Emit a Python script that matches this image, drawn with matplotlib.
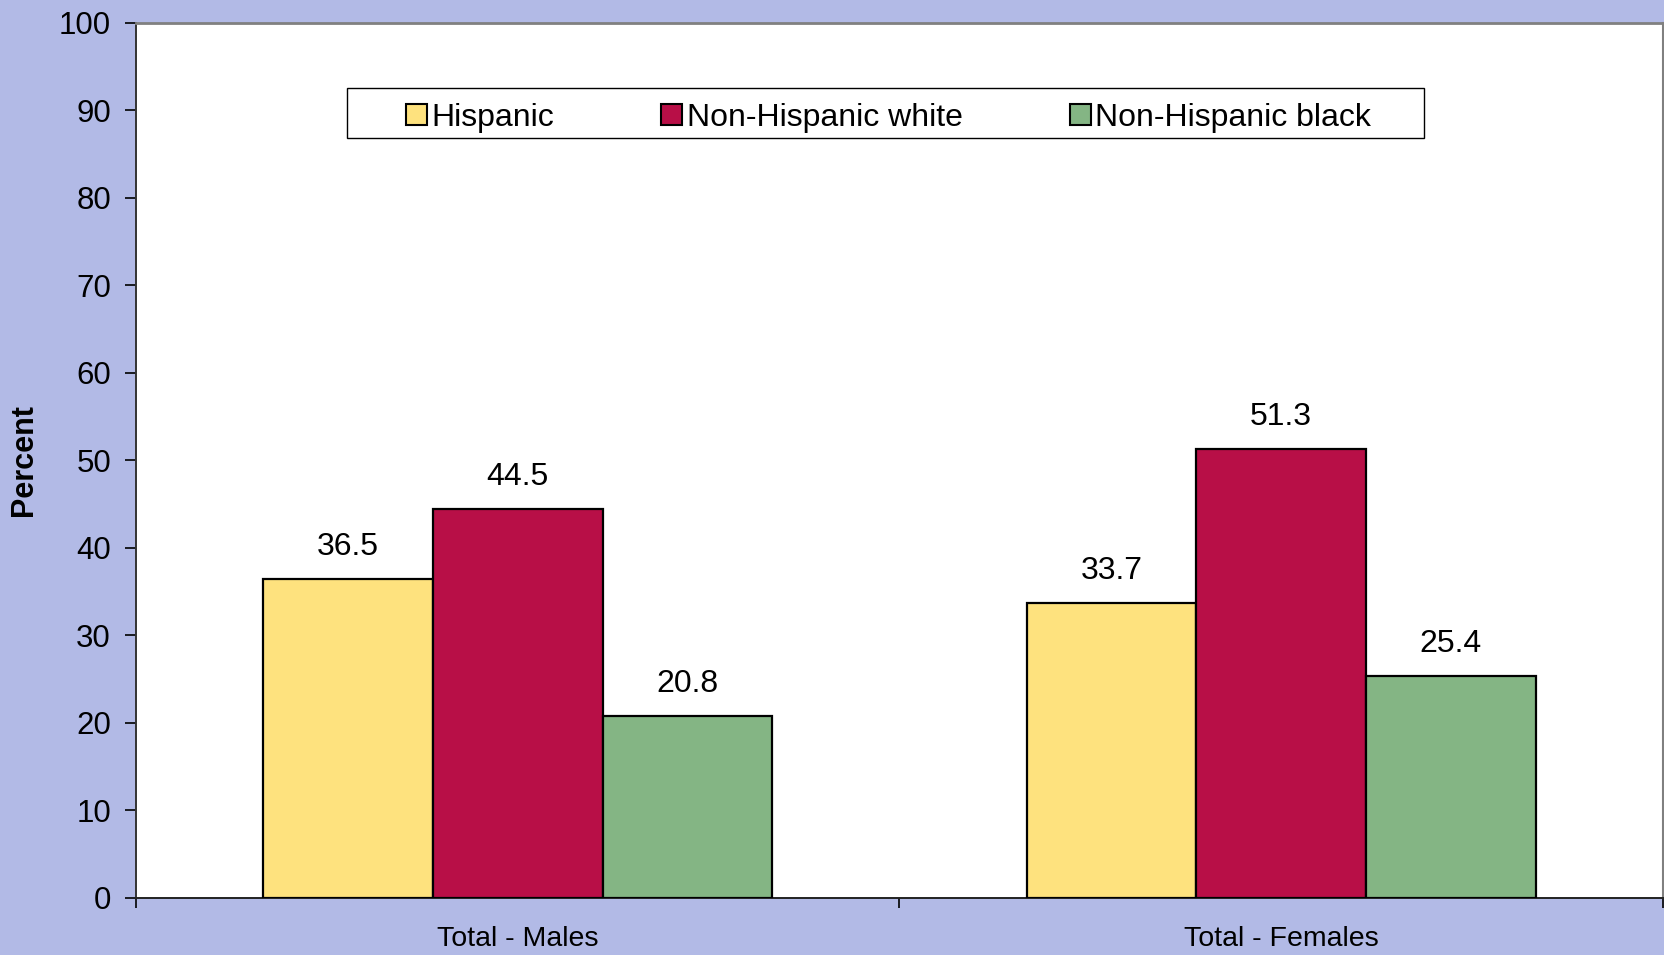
import matplotlib.pyplot as plt
from matplotlib.patches import Rectangle
import numpy as np

plt.rcParams['font.family'] = ['Liberation Sans', 'DejaVu Sans']

categorias = ["Total - Males", "Total - Females"]
series = ["Hispanic", "Non-Hispanic white", "Non-Hispanic black"]
hispanic = [36.5, 33.7]
nh_white = [44.5, 51.3]
nh_black = [20.8, 25.4]

colores = ["#FEE27E", "#B80F47", "#84B584"]
fondo = "#B2BAE6"

fig = plt.figure(figsize=(16.65, 9.55), dpi=100, facecolor=fondo)
ax = fig.add_axes([0.0817, 0.0597, 0.917, 0.9163])
ax.set_facecolor("white")

x = np.arange(len(categorias))
ancho = 0.2222
valores = [hispanic, nh_white, nh_black]

for i, (nombre, vals) in enumerate(zip(series, valores)):
    barras = ax.bar(x + (i - 1) * ancho, vals, ancho, color=colores[i],
                    edgecolor="black", linewidth=1.6, label=nombre, zorder=3)
    for b in barras:
        ax.annotate(f"{b.get_height():.1f}",
                    (b.get_x() + b.get_width() / 2, b.get_height()),
                    xytext=(0, 12), textcoords="offset points",
                    ha="center", va="bottom", fontsize=23)

ax.set_xlim(-0.5, 1.5)
ax.set_ylim(0, 100)
ax.set_yticks(range(0, 101, 10))
ax.tick_params(axis="y", labelsize=22.5, length=8, width=1.2, direction="out", pad=10)

# ticks en los limites de categoria, etiquetas centradas
ax.set_xticks([-0.5, 0.5, 1.5])
ax.set_xticklabels([])
ax.tick_params(axis="x", which="major", length=7, width=1.2, direction="out")
ax.set_xticks(x, minor=True)
ax.set_xticklabels(categorias, minor=True)
ax.tick_params(axis="x", which="minor", length=0, labelsize=20.5, pad=20)

ax.spines["left"].set_color("#333333")
ax.spines["left"].set_linewidth(1.4)
ax.spines["bottom"].set_color("#222222")
ax.spines["bottom"].set_linewidth(1.4)
ax.spines["top"].set_color("#808080")
ax.spines["top"].set_linewidth(2)
ax.spines["right"].set_color("#808080")
ax.spines["right"].set_linewidth(1.5)

ax.set_ylabel("Percent", fontsize=22, fontweight="bold", labelpad=14)

# caja de la leyenda mas ancha que el contenido, como en Excel
ax.add_patch(Rectangle((0.1382, 0.8686), 0.7053, 0.0571, transform=ax.transAxes,
                       facecolor="white", edgecolor="black", linewidth=1.0, zorder=4))
leg = ax.legend(loc="center", bbox_to_anchor=(0.493, 0.8915), ncol=3,
                fontsize=23, frameon=False, borderpad=0.3,
                handlelength=0.65, handleheight=0.65, handletextpad=0.15,
                columnspacing=3.35, borderaxespad=0)
leg.set_zorder(5)
for h in leg.legend_handles:
    h.set_linewidth(1.5)

plt.savefig("out.png", dpi=100, facecolor=fondo)
